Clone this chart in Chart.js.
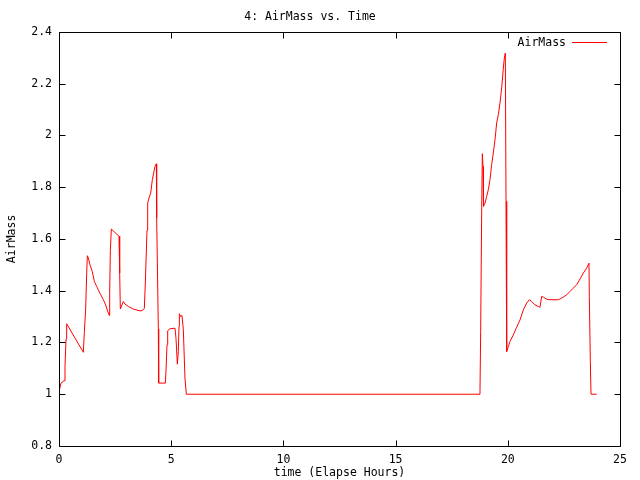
<!DOCTYPE html>
<html>
<head>
<meta charset="utf-8">
<script src="https://cdn.jsdelivr.net/npm/chart.js@4.4.0/dist/chart.umd.min.js"></script>
<style>
html,body{margin:0;padding:0;background:#fff;}
#wrap{width:640px;height:480px;}
</style>
</head>
<body>
<div id="wrap"><canvas id="c" width="640" height="480"></canvas></div>
<script>
const chartTitle = "4: AirMass vs. Time";
const xAxisLabel = "time (Elapse Hours)";
const yAxisLabel = "AirMass";
const seriesName = "AirMass";
const xTickValues = [0, 5, 10, 15, 20, 25];
const yTickLabels = ["0.8", "1", "1.2", "1.4", "1.6", "1.8", "2", "2.2", "2.4"];
const hours = [
  0.000, 0.089, 0.223, 0.267, 0.312, 0.342, 0.713, 1.084, 1.129, 1.188, 1.233, 1.262,
  1.307, 1.381, 1.485, 1.575, 1.679, 1.827, 1.976, 2.080, 2.169, 2.243, 2.258, 2.288,
  2.332, 2.674, 2.704, 2.733, 2.867, 2.941, 3.090, 3.313, 3.610, 3.714, 3.803, 3.848,
  3.922, 3.952, 4.011, 4.086, 4.160, 4.234, 4.279, 4.338, 4.353, 4.427, 4.442, 4.739,
  4.769, 4.813, 4.843, 4.947, 5.170, 5.214, 5.274, 5.318, 5.348, 5.363, 5.422, 5.481,
  5.541, 5.615, 5.675,
  18.717, 18.761, 18.791, 18.835, 18.865, 18.895, 18.910, 18.925, 18.984, 19.058, 19.132,
  19.207, 19.281, 19.355, 19.430, 19.504, 19.578, 19.652, 19.727, 19.801, 19.846, 19.890,
  19.920, 19.950, 20.024, 20.098, 20.247, 20.395, 20.544, 20.692, 20.767, 20.841, 20.960,
  21.064, 21.212, 21.361, 21.435, 21.509, 21.584, 21.732, 21.881, 22.252, 22.400, 22.623,
  22.771, 22.920, 23.068, 23.217, 23.366, 23.514, 23.618, 23.633, 23.678, 23.708, 23.960
];
const airMass = [
  1.010, 1.043, 1.052, 1.107, 1.213, 1.272, 1.217, 1.162, 1.238, 1.329, 1.465, 1.535,
  1.526, 1.500, 1.474, 1.436, 1.416, 1.390, 1.365, 1.345, 1.320, 1.304, 1.388, 1.555,
  1.638, 1.610, 1.468, 1.329, 1.358, 1.348, 1.339, 1.329, 1.322, 1.323, 1.332, 1.433,
  1.633, 1.738, 1.758, 1.777, 1.829, 1.861, 1.880, 1.890, 1.680, 1.253, 1.043, 1.043,
  1.091, 1.191, 1.245, 1.253, 1.255, 1.216, 1.116, 1.165, 1.262, 1.311, 1.300, 1.304,
  1.249, 1.059, 1.000,
  1.000, 1.010, 1.242, 1.700, 1.929, 1.880, 1.777, 1.726, 1.738, 1.764, 1.790,
  1.829, 1.887, 1.932, 1.983, 2.048, 2.080, 2.125, 2.183, 2.260, 2.299, 2.318,
  1.745, 1.165, 1.184, 1.204, 1.229, 1.259, 1.287, 1.326, 1.339, 1.352, 1.365,
  1.358, 1.345, 1.339, 1.336, 1.378, 1.375, 1.367, 1.365, 1.365, 1.371, 1.384,
  1.397, 1.410, 1.423, 1.445, 1.468, 1.487, 1.506, 1.378, 1.126, 1.000, 1.000
];

const FONT = "'DejaVu Sans Mono', 'Liberation Mono', monospace";
const points = hours.map((h, i) => ({x: h, y: airMass[i]}));

const framePlugin = {
  id: 'frame',
  afterDraw(chart) {
    const ctx = chart.ctx;
    const a = chart.chartArea;
    const xs = chart.scales.x, ys = chart.scales.y;
    const L = Math.round(a.left) + 0.5, R = Math.round(a.right) + 0.5;
    const T = Math.round(a.top) + 0.5, B = Math.round(a.bottom) + 0.5;
    ctx.save();
    ctx.strokeStyle = '#000';
    ctx.lineWidth = 1;
    ctx.beginPath();
    ctx.rect(L, T, R - L, B - T);
    const tl = 6;
    xs.ticks.forEach(t => {
      const px = Math.round(xs.getPixelForValue(t.value)) + 0.5;
      ctx.moveTo(px, B); ctx.lineTo(px, B - tl);
      ctx.moveTo(px, T); ctx.lineTo(px, T + tl);
    });
    ys.ticks.forEach(t => {
      const py = Math.round(ys.getPixelForValue(t.value)) + 0.5;
      ctx.moveTo(L, py); ctx.lineTo(L + tl, py);
      ctx.moveTo(R, py); ctx.lineTo(R - tl, py);
    });
    ctx.stroke();
    // legend
    ctx.font = "11.5px " + FONT;
    ctx.fillStyle = '#000';
    ctx.textAlign = 'right';
    ctx.textBaseline = 'middle';
    ctx.fillText(seriesName, 566, 43);
    ctx.strokeStyle = '#ff0000';
    ctx.beginPath();
    ctx.moveTo(572, 42.5); ctx.lineTo(607, 42.5);
    ctx.stroke();
    ctx.restore();
  }
};

new Chart(document.getElementById('c'), {
  type: 'scatter',
  data: {
    datasets: [{
      label: seriesName,
      data: points,
      showLine: true,
      borderColor: '#ff0000',
      backgroundColor: '#ff0000',
      borderWidth: 1,
      pointRadius: 0,
      tension: 0
    }]
  },
  options: {
    responsive: false,
    animation: false,
    layout: {padding: {left: 0, right: 20, top: 0, bottom: 0}},
    plugins: {
      legend: {display: false},
      tooltip: {enabled: false},
      title: {
        display: true,
        text: chartTitle,
        color: '#000',
        font: {family: FONT, size: 11.5, weight: 'normal', lineHeight: 1.2},
        padding: {top: 10, bottom: 8}
      }
    },
    scales: {
      x: {
        type: 'linear',
        min: 0, max: 25,
        afterBuildTicks(scale) { scale.ticks = xTickValues.map(v => ({value: v})); },
        afterFit(scale) { scale.height = 34; },
        grid: {display: false, drawTicks: false},
        border: {display: false},
        ticks: {
          color: '#000', padding: 7, maxRotation: 0, autoSkip: false,
          font: {family: FONT, size: 11.5},
          callback: v => String(v)
        },
        title: {
          display: true, text: xAxisLabel, color: '#000',
          font: {family: FONT, size: 11.5, lineHeight: 1.2},
          padding: {top: 0, bottom: 0}
        }
      },
      y: {
        type: 'linear',
        min: 0.8, max: 2.4,
        afterBuildTicks(scale) { scale.ticks = yTickLabels.map(s => ({value: parseFloat(s)})); },
        afterFit(scale) { scale.width = 59; },
        grid: {display: false, drawTicks: false},
        border: {display: false},
        ticks: {
          color: '#000', padding: 7, autoSkip: false,
          font: {family: FONT, size: 11.5},
          callback: (v, i) => yTickLabels[i]
        },
        title: {
          display: true, text: yAxisLabel, color: '#000',
          font: {family: FONT, size: 11.5, lineHeight: 1.2},
          padding: {top: 5, bottom: 0}
        }
      }
    }
  },
  plugins: [framePlugin]
});
</script>
</body>
</html>
